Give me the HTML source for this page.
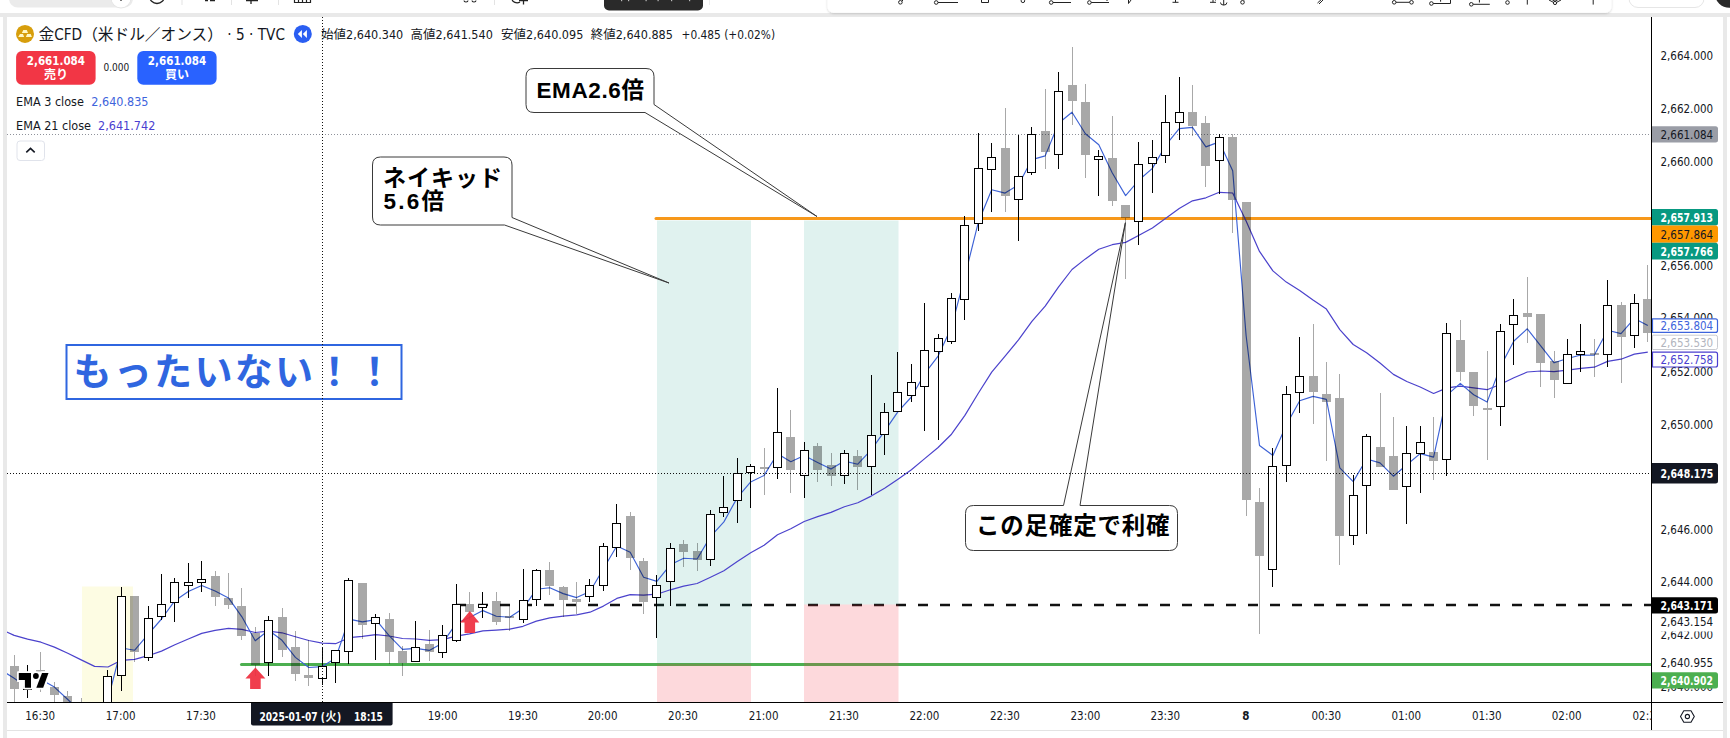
<!DOCTYPE html>
<html><head><meta charset="utf-8"><title>chart</title>
<style>
html,body{margin:0;padding:0;}
body{width:1730px;height:738px;overflow:hidden;position:relative;background:#fff;font-family:"Liberation Sans","Noto Sans CJK JP",sans-serif;color:#131722;}
.t{position:absolute;white-space:nowrap;line-height:1;}
</style></head><body>
<svg width="1730" height="738" viewBox="0 0 1730 738" style="position:absolute;left:0;top:0"><defs><clipPath id="cc"><rect x="7" y="17" width="1644" height="685"/></clipPath><clipPath id="tclip"><rect x="1600" y="700" width="51" height="30"/></clipPath><filter id="sh" x="-5%" y="-50%" width="110%" height="200%"><feDropShadow dx="0" dy="1" stdDeviation="1.2" flood-color="#000" flood-opacity="0.18"/></filter></defs><rect x="0" y="0" width="1730" height="738" fill="#ffffff"/><rect x="0" y="13" width="1730" height="4" fill="#e9e9e9"/><rect x="3" y="13" width="4" height="725" fill="#e9e9e9"/><rect x="1723" y="13" width="4" height="725" fill="#e9e9e9"/><rect x="7" y="17" width="1716" height="713" fill="#ffffff"/><rect x="7" y="730" width="1716" height="1" fill="#e3e3e3"/><rect x="9" y="-12" width="124" height="19.6" rx="9" fill="#ebebeb"/><circle cx="121" cy="-2" r="10" fill="#fff" stroke="#e6e6e6" stroke-width="1"/><path d="M121 -4 V1" stroke="#222" stroke-width="1.2"/><circle cx="157" cy="-4" r="7.5" fill="none" stroke="#222" stroke-width="1.3"/><rect x="181.5" y="0" width="1" height="5" fill="#e3e3e3"/><path d="M205 0.5 h3 M210 0.5 h5" stroke="#222" stroke-width="1.5"/><rect x="231" y="0" width="1" height="5" fill="#e3e3e3"/><path d="M251 0 V4 M246 0.6 H258" stroke="#222" stroke-width="1.3"/><rect x="278" y="0" width="1" height="5" fill="#e3e3e3"/><path d="M294.5 -2 V2.5 H310.5 V-2 M298.5 0 V2.5 M302.5 0 V2.5 M306.5 0 V2.5" fill="none" stroke="#222" stroke-width="1.2"/><path d="M464 0.5 a2 1.5 0 0 0 4 0 M472 0.5 a2 1.5 0 0 0 4 0" fill="none" stroke="#222" stroke-width="1.1"/><rect x="494" y="0" width="1" height="5" fill="#e3e3e3"/><path d="M512 -1 a5 4 0 0 0 8 3 M523.5 -2 V4.5 M519 0.5 H528" fill="none" stroke="#222" stroke-width="1.3"/><rect x="604" y="-10" width="99" height="20.5" rx="5" fill="#2a2a2a"/><g fill="#bbb"><rect x="621" y="0" width="1.2" height="1.2"/><rect x="628" y="0" width="1.2" height="1.2"/><rect x="645.5" y="0" width="1.2" height="1.2"/><rect x="657.5" y="0" width="1.2" height="1.2"/><rect x="671" y="0" width="1.2" height="1.2"/><rect x="689" y="0" width="1.2" height="1.2"/></g><rect x="709" y="0" width="1" height="5" fill="#ececec"/><rect x="827.5" y="-10" width="784" height="22.8" rx="6" fill="#ffffff" filter="url(#sh)"/><path d="M901 2 L904 -1" fill="none" stroke="#222" stroke-width="1"/><circle cx="900.4" cy="2.3" r="1.8" fill="#fff" stroke="#222" stroke-width="1"/><path d="M938 2.5 H958" fill="none" stroke="#222" stroke-width="1"/><circle cx="936.2" cy="2.5" r="1.8" fill="#fff" stroke="#222" stroke-width="1"/><path d="M981.5 -2 V2.5 H988.5 V-2" fill="none" stroke="#222" stroke-width="1"/><path d="M1022 0 L1025 -2" fill="none" stroke="#222" stroke-width="1"/><circle cx="1022.9" cy="0.8" r="1.8" fill="#fff" stroke="#222" stroke-width="1"/><path d="M1053 2.5 H1071" fill="none" stroke="#222" stroke-width="1"/><circle cx="1051.2" cy="2.5" r="1.8" fill="#fff" stroke="#222" stroke-width="1"/><path d="M1091 2.5 H1109 M1107 0 V1" fill="none" stroke="#222" stroke-width="1"/><circle cx="1089.4" cy="2.5" r="1.8" fill="#fff" stroke="#222" stroke-width="1"/><path d="M1128.5 -1 V3.5 L1131 0" fill="none" stroke="#222" stroke-width="1"/><path d="M1172.5 2.3 H1178.5 M1175.5 -2 V2.3" fill="none" stroke="#222" stroke-width="1"/><path d="M1210 2.3 H1216 M1213 -2 V2.3" fill="none" stroke="#222" stroke-width="1"/><path d="M1223.7 -1 V5 M1220.5 2.5 a3.2 2.6 0 0 0 6.4 0 M1215 0 h1" fill="none" stroke="#222" stroke-width="1"/><circle cx="1242.5" cy="2.3" r="1.8" fill="#fff" stroke="#222" stroke-width="1"/><path d="M1244 0.5 L1246 -1.5" fill="none" stroke="#222" stroke-width="1"/><path d="M1317.5 3 L1323 -2 M1319 4 L1324 -1" fill="none" stroke="#222" stroke-width="1"/><path d="M1396 2.3 H1410" fill="none" stroke="#222" stroke-width="1"/><circle cx="1394.2" cy="2.3" r="1.8" fill="#fff" stroke="#222" stroke-width="1"/><circle cx="1411.5" cy="2.3" r="1.8" fill="#fff" stroke="#222" stroke-width="1"/><path d="M1433 3.5 H1450.5 V-1 M1440.6 -1 V1.7" fill="none" stroke="#222" stroke-width="1"/><circle cx="1431.4" cy="3.5" r="1.8" fill="#fff" stroke="#222" stroke-width="1"/><path d="M1473 4.3 H1489.8 M1479.4 -1 V2.5" fill="none" stroke="#222" stroke-width="1"/><circle cx="1471.3" cy="4.3" r="1.8" fill="#fff" stroke="#222" stroke-width="1"/><circle cx="1507.5" cy="2.5" r="1.8" fill="#fff" stroke="#222" stroke-width="1"/><path d="M1527.3 -1 V4.6" fill="none" stroke="#222" stroke-width="1"/><path d="M1549 0 L1555 3.2 L1561 0 M1549 -2 L1555 1.2 L1561 -2" fill="none" stroke="#222" stroke-width="1"/><circle cx="1555" cy="3" r="1.6" fill="#fff" stroke="#222" stroke-width="1"/><path d="M1593.2 -1 V4.6" fill="none" stroke="#222" stroke-width="1"/><rect x="1629" y="-12" width="75" height="19.5" rx="9" fill="#fff" stroke="#e6e6e6" stroke-width="1"/><circle cx="1729.5" cy="-7" r="14.8" fill="#2a2a2a"/><g clip-path="url(#cc)"><rect x="82" y="586.5" width="51" height="120" fill="#fdfce3"/><line x1="7" y1="134.5" x2="1651" y2="134.5" stroke="#8f929b" stroke-width="1" stroke-dasharray="1 2"/><line x1="656" y1="218.45" x2="1651" y2="218.45" stroke="#f7981a" stroke-width="3" stroke-linecap="round"/><line x1="241.5" y1="664.45" x2="1651" y2="664.45" stroke="#4caf50" stroke-width="3" stroke-linecap="round"/><line x1="456" y1="605" x2="1651" y2="605" stroke="#111" stroke-width="2.4" stroke-dasharray="10 12"/><rect x="657" y="220.5" width="94" height="442.5" fill="rgba(8,153,129,0.125)"/><rect x="657" y="663.8" width="94" height="40" fill="rgba(242,54,69,0.19)"/><rect x="804" y="220.5" width="94.5" height="384" fill="rgba(8,153,129,0.125)"/><rect x="804" y="604.5" width="94.5" height="100" fill="rgba(242,54,69,0.19)"/><polyline points="5.0,631.2 14.2,635.4 27.6,639.1 41.0,642.2 54.4,647.1 67.8,653.3 81.2,659.9 94.6,666.4 108.0,667.0 121.3,660.3 134.7,659.4 148.1,655.7 161.5,651.1 174.9,644.8 188.3,639.0 201.7,633.4 215.1,630.3 228.5,628.3 241.9,629.3 255.2,632.5 268.6,631.2 282.0,632.8 295.4,636.8 308.8,640.5 322.2,643.1 335.6,643.7 349.0,637.7 362.4,636.4 375.8,634.6 389.1,636.0 402.5,638.5 415.9,639.0 429.3,640.3 442.7,639.7 456.1,636.2 469.5,633.8 482.9,630.9 496.3,630.1 509.7,629.1 523.0,626.3 536.4,621.1 549.8,617.8 563.2,616.2 576.6,614.9 590.0,612.2 603.4,606.1 616.8,598.4 630.2,594.7 643.6,595.2 656.9,594.2 670.3,589.8 683.7,586.1 697.1,583.5 710.5,577.2 723.9,570.7 737.3,561.6 750.7,552.8 764.1,545.2 777.5,534.7 790.8,528.8 804.2,521.5 817.6,516.6 831.0,512.4 844.4,506.7 857.8,502.7 871.2,496.1 884.6,488.2 898.0,479.2 911.4,469.8 924.7,458.6 938.1,447.5 951.5,434.2 964.9,415.4 978.3,393.3 991.7,372.1 1005.1,356.1 1018.5,339.9 1031.9,321.4 1045.2,306.2 1058.6,286.8 1072.0,269.5 1085.4,258.9 1098.8,249.3 1112.2,244.7 1125.6,242.4 1139.0,235.2 1152.4,228.0 1165.8,218.3 1179.2,208.6 1192.5,200.8 1205.9,197.8 1219.3,192.3 1232.7,193.0 1246.1,221.0 1259.5,251.4 1272.9,270.9 1286.3,282.1 1299.7,290.5 1313.0,300.1 1326.4,309.1 1339.8,329.6 1353.2,344.5 1366.6,352.8 1380.0,363.0 1393.4,374.4 1406.8,381.5 1420.2,387.0 1433.6,393.5 1447.0,387.9 1460.3,386.2 1473.7,387.9 1487.1,389.7 1500.5,384.2 1513.9,377.7 1527.3,372.0 1540.7,371.0 1554.1,371.7 1567.5,370.1 1580.9,368.4 1594.2,367.2 1607.6,361.4 1621.0,359.2 1634.4,354.1 1647.8,352.1" fill="none" stroke="#4b42cc" stroke-width="1.2" stroke-linejoin="round"/><polyline points="5.0,672.5 14.2,678.2 27.6,687.6 41.0,679.6 54.4,687.1 67.8,699.5 81.2,712.3 94.6,722.4 108.0,699.4 121.3,648.0 134.7,650.2 148.1,634.3 161.5,619.0 174.9,600.7 188.3,591.6 201.7,585.5 215.1,591.0 228.5,597.9 241.9,616.8 255.2,640.8 268.6,630.2 282.0,640.3 295.4,657.4 308.8,667.5 322.2,666.6 335.6,658.3 349.0,619.1 362.4,621.9 375.8,619.6 389.1,635.7 402.5,649.4 415.9,648.4 429.3,650.4 442.7,642.9 456.1,623.6 469.5,617.6 482.9,610.6 496.3,616.2 509.7,617.3 523.0,608.4 536.4,589.3 549.8,587.7 563.2,593.6 576.6,597.6 590.0,591.5 603.4,568.7 616.8,546.0 630.2,552.3 643.6,577.3 656.9,581.4 670.3,564.8 683.7,558.3 697.1,559.0 710.5,536.6 723.9,521.9 737.3,497.6 750.7,481.9 764.1,475.4 777.5,453.8 790.8,461.7 804.2,455.6 817.6,462.5 831.0,469.1 844.4,461.1 857.8,464.2 871.2,449.8 884.6,431.1 898.0,411.7 911.4,397.0 924.7,373.7 938.1,356.1 951.5,327.2 964.9,276.2 978.3,222.3 991.7,189.7 1005.1,193.1 1018.5,184.8 1031.9,159.6 1045.2,155.9 1058.6,123.3 1072.0,112.2 1085.4,133.7 1098.8,144.8 1112.2,172.7 1125.6,195.6 1139.0,180.0 1152.4,168.4 1165.8,145.2 1179.2,128.6 1192.5,127.4 1205.9,146.9 1219.3,141.9 1232.7,170.7 1246.1,335.5 1259.5,445.5 1272.9,455.5 1286.3,425.0 1299.7,400.8 1313.0,396.4 1326.4,399.4 1339.8,467.9 1353.2,481.6 1366.6,459.0 1380.0,462.9 1393.4,476.2 1406.8,464.8 1420.2,453.6 1433.6,457.1 1447.0,395.1 1460.3,383.4 1473.7,394.7 1487.1,402.1 1500.5,366.6 1513.9,341.0 1527.3,328.8 1540.7,345.8 1554.1,362.8 1567.5,358.5 1580.9,355.0 1594.2,355.2 1607.6,330.2 1621.0,333.6 1634.4,318.4 1647.8,325.6" fill="none" stroke="#3d62d6" stroke-width="1.15" stroke-linejoin="round"/><line x1="14.5" y1="655" x2="14.5" y2="666" stroke="rgba(0,0,0,0.34)" stroke-width="1"/><line x1="14.5" y1="689" x2="14.5" y2="710" stroke="rgba(0,0,0,0.34)" stroke-width="1"/><rect x="10" y="666" width="9" height="23" fill="rgba(0,0,0,0.34)"/><line x1="27.5" y1="665" x2="27.5" y2="672" stroke="#000" stroke-width="1"/><line x1="27.5" y1="690" x2="27.5" y2="698" stroke="#000" stroke-width="1"/><rect x="23.5" y="672.5" width="8" height="17" fill="#fff" stroke="#000" stroke-width="1"/><line x1="40.5" y1="652" x2="40.5" y2="670" stroke="rgba(0,0,0,0.34)" stroke-width="1"/><line x1="40.5" y1="672" x2="40.5" y2="692" stroke="rgba(0,0,0,0.34)" stroke-width="1"/><rect x="36" y="670" width="9" height="2" fill="rgba(0,0,0,0.34)"/><line x1="54.5" y1="682" x2="54.5" y2="687" stroke="rgba(0,0,0,0.34)" stroke-width="1"/><line x1="54.5" y1="695" x2="54.5" y2="710" stroke="rgba(0,0,0,0.34)" stroke-width="1"/><rect x="50" y="687" width="9" height="8" fill="rgba(0,0,0,0.34)"/><line x1="67.5" y1="691" x2="67.5" y2="696" stroke="rgba(0,0,0,0.34)" stroke-width="1"/><line x1="67.5" y1="712" x2="67.5" y2="720" stroke="rgba(0,0,0,0.34)" stroke-width="1"/><rect x="63" y="696" width="9" height="16" fill="rgba(0,0,0,0.34)"/><line x1="81.5" y1="698" x2="81.5" y2="705" stroke="rgba(0,0,0,0.34)" stroke-width="1"/><line x1="81.5" y1="725" x2="81.5" y2="730" stroke="rgba(0,0,0,0.34)" stroke-width="1"/><rect x="77" y="705" width="9" height="20" fill="rgba(0,0,0,0.34)"/><line x1="94.5" y1="720" x2="94.5" y2="726" stroke="rgba(0,0,0,0.34)" stroke-width="1"/><line x1="94.5" y1="732" x2="94.5" y2="740" stroke="rgba(0,0,0,0.34)" stroke-width="1"/><rect x="90" y="726" width="9" height="6" fill="rgba(0,0,0,0.34)"/><line x1="107.5" y1="670" x2="107.5" y2="676" stroke="#000" stroke-width="1"/><line x1="107.5" y1="720" x2="107.5" y2="725" stroke="#000" stroke-width="1"/><rect x="103.5" y="676.5" width="8" height="43" fill="#fff" stroke="#000" stroke-width="1"/><line x1="121.5" y1="587" x2="121.5" y2="596" stroke="#000" stroke-width="1"/><line x1="121.5" y1="676" x2="121.5" y2="691" stroke="#000" stroke-width="1"/><rect x="117.5" y="596.5" width="8" height="79" fill="#fff" stroke="#000" stroke-width="1"/><line x1="134.5" y1="652" x2="134.5" y2="662" stroke="rgba(0,0,0,0.34)" stroke-width="1"/><rect x="130" y="596" width="9" height="56" fill="rgba(0,0,0,0.34)"/><line x1="148.5" y1="606" x2="148.5" y2="618" stroke="#000" stroke-width="1"/><line x1="148.5" y1="658" x2="148.5" y2="661" stroke="#000" stroke-width="1"/><rect x="144.5" y="618.5" width="8" height="39" fill="#fff" stroke="#000" stroke-width="1"/><line x1="161.5" y1="574" x2="161.5" y2="604" stroke="#000" stroke-width="1"/><line x1="161.5" y1="617" x2="161.5" y2="620" stroke="#000" stroke-width="1"/><rect x="157.5" y="604.5" width="8" height="12" fill="#fff" stroke="#000" stroke-width="1"/><line x1="174.5" y1="578" x2="174.5" y2="582" stroke="#000" stroke-width="1"/><line x1="174.5" y1="603" x2="174.5" y2="622" stroke="#000" stroke-width="1"/><rect x="170.5" y="582.5" width="8" height="20" fill="#fff" stroke="#000" stroke-width="1"/><line x1="188.5" y1="563" x2="188.5" y2="582" stroke="#000" stroke-width="1"/><line x1="188.5" y1="586" x2="188.5" y2="598" stroke="#000" stroke-width="1"/><rect x="184.5" y="582.5" width="8" height="3" fill="#fff" stroke="#000" stroke-width="1"/><line x1="201.5" y1="561" x2="201.5" y2="579" stroke="#000" stroke-width="1"/><line x1="201.5" y1="583" x2="201.5" y2="592" stroke="#000" stroke-width="1"/><rect x="197.5" y="579.5" width="8" height="3" fill="#fff" stroke="#000" stroke-width="1"/><line x1="215.5" y1="571" x2="215.5" y2="576" stroke="rgba(0,0,0,0.34)" stroke-width="1"/><line x1="215.5" y1="597" x2="215.5" y2="606" stroke="rgba(0,0,0,0.34)" stroke-width="1"/><rect x="211" y="576" width="9" height="21" fill="rgba(0,0,0,0.34)"/><line x1="228.5" y1="573" x2="228.5" y2="598" stroke="rgba(0,0,0,0.34)" stroke-width="1"/><line x1="228.5" y1="605" x2="228.5" y2="609" stroke="rgba(0,0,0,0.34)" stroke-width="1"/><rect x="224" y="598" width="9" height="7" fill="rgba(0,0,0,0.34)"/><line x1="241.5" y1="588" x2="241.5" y2="606" stroke="rgba(0,0,0,0.34)" stroke-width="1"/><line x1="241.5" y1="636" x2="241.5" y2="640" stroke="rgba(0,0,0,0.34)" stroke-width="1"/><rect x="237" y="606" width="9" height="30" fill="rgba(0,0,0,0.34)"/><line x1="255.5" y1="627" x2="255.5" y2="633" stroke="rgba(0,0,0,0.34)" stroke-width="1"/><line x1="255.5" y1="665" x2="255.5" y2="676" stroke="rgba(0,0,0,0.34)" stroke-width="1"/><rect x="251" y="633" width="9" height="32" fill="rgba(0,0,0,0.34)"/><line x1="268.5" y1="616" x2="268.5" y2="620" stroke="#000" stroke-width="1"/><line x1="268.5" y1="663" x2="268.5" y2="676" stroke="#000" stroke-width="1"/><rect x="264.5" y="620.5" width="8" height="42" fill="#fff" stroke="#000" stroke-width="1"/><line x1="282.5" y1="608" x2="282.5" y2="617" stroke="rgba(0,0,0,0.34)" stroke-width="1"/><line x1="282.5" y1="650" x2="282.5" y2="657" stroke="rgba(0,0,0,0.34)" stroke-width="1"/><rect x="278" y="617" width="9" height="33" fill="rgba(0,0,0,0.34)"/><line x1="295.5" y1="631" x2="295.5" y2="647" stroke="rgba(0,0,0,0.34)" stroke-width="1"/><line x1="295.5" y1="674" x2="295.5" y2="681" stroke="rgba(0,0,0,0.34)" stroke-width="1"/><rect x="291" y="647" width="9" height="27" fill="rgba(0,0,0,0.34)"/><line x1="308.5" y1="640" x2="308.5" y2="675" stroke="rgba(0,0,0,0.34)" stroke-width="1"/><line x1="308.5" y1="678" x2="308.5" y2="686" stroke="rgba(0,0,0,0.34)" stroke-width="1"/><rect x="304" y="675" width="9" height="3" fill="rgba(0,0,0,0.34)"/><line x1="322.5" y1="647" x2="322.5" y2="666" stroke="#000" stroke-width="1"/><line x1="322.5" y1="679" x2="322.5" y2="685" stroke="#000" stroke-width="1"/><rect x="318.5" y="666.5" width="8" height="12" fill="#fff" stroke="#000" stroke-width="1"/><line x1="335.5" y1="663" x2="335.5" y2="683" stroke="#000" stroke-width="1"/><rect x="331.5" y="650.5" width="8" height="12" fill="#fff" stroke="#000" stroke-width="1"/><line x1="348.5" y1="578" x2="348.5" y2="580" stroke="#000" stroke-width="1"/><line x1="348.5" y1="652" x2="348.5" y2="664" stroke="#000" stroke-width="1"/><rect x="344.5" y="580.5" width="8" height="71" fill="#fff" stroke="#000" stroke-width="1"/><line x1="362.5" y1="625" x2="362.5" y2="639" stroke="rgba(0,0,0,0.34)" stroke-width="1"/><rect x="358" y="583" width="9" height="42" fill="rgba(0,0,0,0.34)"/><line x1="375.5" y1="614" x2="375.5" y2="617" stroke="#000" stroke-width="1"/><line x1="375.5" y1="624" x2="375.5" y2="660" stroke="#000" stroke-width="1"/><rect x="371.5" y="617.5" width="8" height="6" fill="#fff" stroke="#000" stroke-width="1"/><line x1="389.5" y1="613" x2="389.5" y2="619" stroke="rgba(0,0,0,0.34)" stroke-width="1"/><line x1="389.5" y1="652" x2="389.5" y2="664" stroke="rgba(0,0,0,0.34)" stroke-width="1"/><rect x="385" y="619" width="9" height="33" fill="rgba(0,0,0,0.34)"/><line x1="402.5" y1="646" x2="402.5" y2="651" stroke="rgba(0,0,0,0.34)" stroke-width="1"/><line x1="402.5" y1="663" x2="402.5" y2="676" stroke="rgba(0,0,0,0.34)" stroke-width="1"/><rect x="398" y="651" width="9" height="12" fill="rgba(0,0,0,0.34)"/><line x1="415.5" y1="621" x2="415.5" y2="647" stroke="#000" stroke-width="1"/><rect x="411.5" y="647.5" width="8" height="14" fill="#fff" stroke="#000" stroke-width="1"/><line x1="429.5" y1="630" x2="429.5" y2="644" stroke="rgba(0,0,0,0.34)" stroke-width="1"/><line x1="429.5" y1="652" x2="429.5" y2="661" stroke="rgba(0,0,0,0.34)" stroke-width="1"/><rect x="425" y="644" width="9" height="8" fill="rgba(0,0,0,0.34)"/><line x1="442.5" y1="625" x2="442.5" y2="635" stroke="#000" stroke-width="1"/><line x1="442.5" y1="653" x2="442.5" y2="658" stroke="#000" stroke-width="1"/><rect x="438.5" y="635.5" width="8" height="17" fill="#fff" stroke="#000" stroke-width="1"/><line x1="456.5" y1="584" x2="456.5" y2="604" stroke="#000" stroke-width="1"/><line x1="456.5" y1="641" x2="456.5" y2="642" stroke="#000" stroke-width="1"/><rect x="452.5" y="604.5" width="8" height="36" fill="#fff" stroke="#000" stroke-width="1"/><line x1="469.5" y1="592" x2="469.5" y2="604" stroke="rgba(0,0,0,0.34)" stroke-width="1"/><line x1="469.5" y1="612" x2="469.5" y2="620" stroke="rgba(0,0,0,0.34)" stroke-width="1"/><rect x="465" y="604" width="9" height="8" fill="rgba(0,0,0,0.34)"/><line x1="482.5" y1="592" x2="482.5" y2="604" stroke="#000" stroke-width="1"/><line x1="482.5" y1="608" x2="482.5" y2="618" stroke="#000" stroke-width="1"/><rect x="478.5" y="604.5" width="8" height="3" fill="#fff" stroke="#000" stroke-width="1"/><line x1="496.5" y1="592" x2="496.5" y2="601" stroke="rgba(0,0,0,0.34)" stroke-width="1"/><line x1="496.5" y1="622" x2="496.5" y2="625" stroke="rgba(0,0,0,0.34)" stroke-width="1"/><rect x="492" y="601" width="9" height="21" fill="rgba(0,0,0,0.34)"/><line x1="509.5" y1="605" x2="509.5" y2="616" stroke="rgba(0,0,0,0.34)" stroke-width="1"/><line x1="509.5" y1="618" x2="509.5" y2="631" stroke="rgba(0,0,0,0.34)" stroke-width="1"/><rect x="505" y="616" width="9" height="2" fill="rgba(0,0,0,0.34)"/><line x1="523.5" y1="569" x2="523.5" y2="600" stroke="#000" stroke-width="1"/><line x1="523.5" y1="620" x2="523.5" y2="623" stroke="#000" stroke-width="1"/><rect x="519.5" y="600.5" width="8" height="19" fill="#fff" stroke="#000" stroke-width="1"/><line x1="536.5" y1="569" x2="536.5" y2="570" stroke="#000" stroke-width="1"/><line x1="536.5" y1="600" x2="536.5" y2="606" stroke="#000" stroke-width="1"/><rect x="532.5" y="570.5" width="8" height="29" fill="#fff" stroke="#000" stroke-width="1"/><line x1="549.5" y1="562" x2="549.5" y2="570" stroke="rgba(0,0,0,0.34)" stroke-width="1"/><line x1="549.5" y1="586" x2="549.5" y2="595" stroke="rgba(0,0,0,0.34)" stroke-width="1"/><rect x="545" y="570" width="9" height="16" fill="rgba(0,0,0,0.34)"/><line x1="563.5" y1="586" x2="563.5" y2="587" stroke="rgba(0,0,0,0.34)" stroke-width="1"/><line x1="563.5" y1="600" x2="563.5" y2="617" stroke="rgba(0,0,0,0.34)" stroke-width="1"/><rect x="559" y="587" width="9" height="13" fill="rgba(0,0,0,0.34)"/><line x1="576.5" y1="582" x2="576.5" y2="599" stroke="rgba(0,0,0,0.34)" stroke-width="1"/><line x1="576.5" y1="602" x2="576.5" y2="614" stroke="rgba(0,0,0,0.34)" stroke-width="1"/><rect x="572" y="599" width="9" height="3" fill="rgba(0,0,0,0.34)"/><line x1="589.5" y1="579" x2="589.5" y2="585" stroke="#000" stroke-width="1"/><line x1="589.5" y1="597" x2="589.5" y2="602" stroke="#000" stroke-width="1"/><rect x="585.5" y="585.5" width="8" height="11" fill="#fff" stroke="#000" stroke-width="1"/><line x1="603.5" y1="543" x2="603.5" y2="546" stroke="#000" stroke-width="1"/><line x1="603.5" y1="586" x2="603.5" y2="591" stroke="#000" stroke-width="1"/><rect x="599.5" y="546.5" width="8" height="39" fill="#fff" stroke="#000" stroke-width="1"/><line x1="616.5" y1="504" x2="616.5" y2="523" stroke="#000" stroke-width="1"/><line x1="616.5" y1="548" x2="616.5" y2="557" stroke="#000" stroke-width="1"/><rect x="612.5" y="523.5" width="8" height="24" fill="#fff" stroke="#000" stroke-width="1"/><line x1="630.5" y1="512" x2="630.5" y2="516" stroke="rgba(0,0,0,0.34)" stroke-width="1"/><line x1="630.5" y1="558" x2="630.5" y2="570" stroke="rgba(0,0,0,0.34)" stroke-width="1"/><rect x="626" y="516" width="9" height="42" fill="rgba(0,0,0,0.34)"/><line x1="643.5" y1="558" x2="643.5" y2="561" stroke="rgba(0,0,0,0.34)" stroke-width="1"/><line x1="643.5" y1="602" x2="643.5" y2="614" stroke="rgba(0,0,0,0.34)" stroke-width="1"/><rect x="639" y="561" width="9" height="41" fill="rgba(0,0,0,0.34)"/><line x1="656.5" y1="575" x2="656.5" y2="585" stroke="#000" stroke-width="1"/><line x1="656.5" y1="598" x2="656.5" y2="638" stroke="#000" stroke-width="1"/><rect x="652.5" y="585.5" width="8" height="12" fill="#fff" stroke="#000" stroke-width="1"/><line x1="670.5" y1="543" x2="670.5" y2="548" stroke="#000" stroke-width="1"/><line x1="670.5" y1="582" x2="670.5" y2="606" stroke="#000" stroke-width="1"/><rect x="666.5" y="548.5" width="8" height="33" fill="#fff" stroke="#000" stroke-width="1"/><line x1="683.5" y1="540" x2="683.5" y2="544" stroke="rgba(0,0,0,0.34)" stroke-width="1"/><line x1="683.5" y1="552" x2="683.5" y2="567" stroke="rgba(0,0,0,0.34)" stroke-width="1"/><rect x="679" y="544" width="9" height="8" fill="rgba(0,0,0,0.34)"/><line x1="697.5" y1="543" x2="697.5" y2="551" stroke="rgba(0,0,0,0.34)" stroke-width="1"/><line x1="697.5" y1="560" x2="697.5" y2="571" stroke="rgba(0,0,0,0.34)" stroke-width="1"/><rect x="693" y="551" width="9" height="9" fill="rgba(0,0,0,0.34)"/><line x1="710.5" y1="510" x2="710.5" y2="514" stroke="#000" stroke-width="1"/><line x1="710.5" y1="560" x2="710.5" y2="566" stroke="#000" stroke-width="1"/><rect x="706.5" y="514.5" width="8" height="45" fill="#fff" stroke="#000" stroke-width="1"/><line x1="723.5" y1="476" x2="723.5" y2="507" stroke="#000" stroke-width="1"/><line x1="723.5" y1="513" x2="723.5" y2="517" stroke="#000" stroke-width="1"/><rect x="719.5" y="507.5" width="8" height="5" fill="#fff" stroke="#000" stroke-width="1"/><line x1="737.5" y1="458" x2="737.5" y2="473" stroke="#000" stroke-width="1"/><line x1="737.5" y1="501" x2="737.5" y2="523" stroke="#000" stroke-width="1"/><rect x="733.5" y="473.5" width="8" height="27" fill="#fff" stroke="#000" stroke-width="1"/><line x1="750.5" y1="464" x2="750.5" y2="466" stroke="#000" stroke-width="1"/><line x1="750.5" y1="473" x2="750.5" y2="508" stroke="#000" stroke-width="1"/><rect x="746.5" y="466.5" width="8" height="6" fill="#fff" stroke="#000" stroke-width="1"/><line x1="764.5" y1="448" x2="764.5" y2="467" stroke="rgba(0,0,0,0.34)" stroke-width="1"/><line x1="764.5" y1="469" x2="764.5" y2="495" stroke="rgba(0,0,0,0.34)" stroke-width="1"/><rect x="760" y="467" width="9" height="2" fill="rgba(0,0,0,0.34)"/><line x1="777.5" y1="388" x2="777.5" y2="432" stroke="#000" stroke-width="1"/><line x1="777.5" y1="468" x2="777.5" y2="479" stroke="#000" stroke-width="1"/><rect x="773.5" y="432.5" width="8" height="35" fill="#fff" stroke="#000" stroke-width="1"/><line x1="790.5" y1="410" x2="790.5" y2="437" stroke="rgba(0,0,0,0.34)" stroke-width="1"/><line x1="790.5" y1="470" x2="790.5" y2="493" stroke="rgba(0,0,0,0.34)" stroke-width="1"/><rect x="786" y="437" width="9" height="33" fill="rgba(0,0,0,0.34)"/><line x1="804.5" y1="442" x2="804.5" y2="450" stroke="#000" stroke-width="1"/><line x1="804.5" y1="476" x2="804.5" y2="498" stroke="#000" stroke-width="1"/><rect x="800.5" y="450.5" width="8" height="25" fill="#fff" stroke="#000" stroke-width="1"/><line x1="817.5" y1="443" x2="817.5" y2="446" stroke="rgba(0,0,0,0.34)" stroke-width="1"/><line x1="817.5" y1="470" x2="817.5" y2="482" stroke="rgba(0,0,0,0.34)" stroke-width="1"/><rect x="813" y="446" width="9" height="24" fill="rgba(0,0,0,0.34)"/><line x1="831.5" y1="453" x2="831.5" y2="465" stroke="rgba(0,0,0,0.34)" stroke-width="1"/><line x1="831.5" y1="476" x2="831.5" y2="486" stroke="rgba(0,0,0,0.34)" stroke-width="1"/><rect x="827" y="465" width="9" height="11" fill="rgba(0,0,0,0.34)"/><line x1="844.5" y1="450" x2="844.5" y2="453" stroke="#000" stroke-width="1"/><line x1="844.5" y1="476" x2="844.5" y2="484" stroke="#000" stroke-width="1"/><rect x="840.5" y="453.5" width="8" height="22" fill="#fff" stroke="#000" stroke-width="1"/><line x1="857.5" y1="450" x2="857.5" y2="456" stroke="rgba(0,0,0,0.34)" stroke-width="1"/><line x1="857.5" y1="467" x2="857.5" y2="490" stroke="rgba(0,0,0,0.34)" stroke-width="1"/><rect x="853" y="456" width="9" height="11" fill="rgba(0,0,0,0.34)"/><line x1="871.5" y1="375" x2="871.5" y2="435" stroke="#000" stroke-width="1"/><line x1="871.5" y1="467" x2="871.5" y2="495" stroke="#000" stroke-width="1"/><rect x="867.5" y="435.5" width="8" height="31" fill="#fff" stroke="#000" stroke-width="1"/><line x1="884.5" y1="403" x2="884.5" y2="412" stroke="#000" stroke-width="1"/><line x1="884.5" y1="435" x2="884.5" y2="455" stroke="#000" stroke-width="1"/><rect x="880.5" y="412.5" width="8" height="22" fill="#fff" stroke="#000" stroke-width="1"/><line x1="897.5" y1="352" x2="897.5" y2="392" stroke="#000" stroke-width="1"/><rect x="893.5" y="392.5" width="8" height="19" fill="#fff" stroke="#000" stroke-width="1"/><line x1="911.5" y1="364" x2="911.5" y2="382" stroke="#000" stroke-width="1"/><line x1="911.5" y1="396" x2="911.5" y2="402" stroke="#000" stroke-width="1"/><rect x="907.5" y="382.5" width="8" height="13" fill="#fff" stroke="#000" stroke-width="1"/><line x1="924.5" y1="303" x2="924.5" y2="350" stroke="#000" stroke-width="1"/><line x1="924.5" y1="387" x2="924.5" y2="431" stroke="#000" stroke-width="1"/><rect x="920.5" y="350.5" width="8" height="36" fill="#fff" stroke="#000" stroke-width="1"/><line x1="938.5" y1="334" x2="938.5" y2="338" stroke="#000" stroke-width="1"/><line x1="938.5" y1="352" x2="938.5" y2="440" stroke="#000" stroke-width="1"/><rect x="934.5" y="338.5" width="8" height="13" fill="#fff" stroke="#000" stroke-width="1"/><line x1="951.5" y1="293" x2="951.5" y2="298" stroke="#000" stroke-width="1"/><line x1="951.5" y1="342" x2="951.5" y2="344" stroke="#000" stroke-width="1"/><rect x="947.5" y="298.5" width="8" height="43" fill="#fff" stroke="#000" stroke-width="1"/><line x1="964.5" y1="216" x2="964.5" y2="225" stroke="#000" stroke-width="1"/><line x1="964.5" y1="300" x2="964.5" y2="320" stroke="#000" stroke-width="1"/><rect x="960.5" y="225.5" width="8" height="74" fill="#fff" stroke="#000" stroke-width="1"/><line x1="978.5" y1="133" x2="978.5" y2="168" stroke="#000" stroke-width="1"/><line x1="978.5" y1="224" x2="978.5" y2="231" stroke="#000" stroke-width="1"/><rect x="974.5" y="168.5" width="8" height="55" fill="#fff" stroke="#000" stroke-width="1"/><line x1="991.5" y1="143" x2="991.5" y2="157" stroke="#000" stroke-width="1"/><line x1="991.5" y1="170" x2="991.5" y2="212" stroke="#000" stroke-width="1"/><rect x="987.5" y="157.5" width="8" height="12" fill="#fff" stroke="#000" stroke-width="1"/><line x1="1005.5" y1="108" x2="1005.5" y2="148" stroke="rgba(0,0,0,0.34)" stroke-width="1"/><line x1="1005.5" y1="196" x2="1005.5" y2="212" stroke="rgba(0,0,0,0.34)" stroke-width="1"/><rect x="1001" y="148" width="9" height="48" fill="rgba(0,0,0,0.34)"/><line x1="1018.5" y1="135" x2="1018.5" y2="176" stroke="#000" stroke-width="1"/><line x1="1018.5" y1="200" x2="1018.5" y2="241" stroke="#000" stroke-width="1"/><rect x="1014.5" y="176.5" width="8" height="23" fill="#fff" stroke="#000" stroke-width="1"/><line x1="1031.5" y1="127" x2="1031.5" y2="134" stroke="#000" stroke-width="1"/><line x1="1031.5" y1="173" x2="1031.5" y2="175" stroke="#000" stroke-width="1"/><rect x="1027.5" y="134.5" width="8" height="38" fill="#fff" stroke="#000" stroke-width="1"/><line x1="1045.5" y1="89" x2="1045.5" y2="131" stroke="rgba(0,0,0,0.34)" stroke-width="1"/><line x1="1045.5" y1="152" x2="1045.5" y2="169" stroke="rgba(0,0,0,0.34)" stroke-width="1"/><rect x="1041" y="131" width="9" height="21" fill="rgba(0,0,0,0.34)"/><line x1="1058.5" y1="72" x2="1058.5" y2="91" stroke="#000" stroke-width="1"/><line x1="1058.5" y1="155" x2="1058.5" y2="169" stroke="#000" stroke-width="1"/><rect x="1054.5" y="91.5" width="8" height="63" fill="#fff" stroke="#000" stroke-width="1"/><line x1="1072.5" y1="47" x2="1072.5" y2="85" stroke="rgba(0,0,0,0.34)" stroke-width="1"/><line x1="1072.5" y1="101" x2="1072.5" y2="125" stroke="rgba(0,0,0,0.34)" stroke-width="1"/><rect x="1068" y="85" width="9" height="16" fill="rgba(0,0,0,0.34)"/><line x1="1085.5" y1="84" x2="1085.5" y2="102" stroke="rgba(0,0,0,0.34)" stroke-width="1"/><line x1="1085.5" y1="155" x2="1085.5" y2="178" stroke="rgba(0,0,0,0.34)" stroke-width="1"/><rect x="1081" y="102" width="9" height="53" fill="rgba(0,0,0,0.34)"/><line x1="1098.5" y1="150" x2="1098.5" y2="156" stroke="#000" stroke-width="1"/><line x1="1098.5" y1="160" x2="1098.5" y2="196" stroke="#000" stroke-width="1"/><rect x="1094.5" y="156.5" width="8" height="3" fill="#fff" stroke="#000" stroke-width="1"/><line x1="1112.5" y1="116" x2="1112.5" y2="158" stroke="rgba(0,0,0,0.34)" stroke-width="1"/><line x1="1112.5" y1="201" x2="1112.5" y2="206" stroke="rgba(0,0,0,0.34)" stroke-width="1"/><rect x="1108" y="158" width="9" height="43" fill="rgba(0,0,0,0.34)"/><line x1="1125.5" y1="218" x2="1125.5" y2="279" stroke="rgba(0,0,0,0.34)" stroke-width="1"/><rect x="1121" y="205" width="9" height="13" fill="rgba(0,0,0,0.34)"/><line x1="1138.5" y1="142" x2="1138.5" y2="164" stroke="#000" stroke-width="1"/><line x1="1138.5" y1="222" x2="1138.5" y2="245" stroke="#000" stroke-width="1"/><rect x="1134.5" y="164.5" width="8" height="57" fill="#fff" stroke="#000" stroke-width="1"/><line x1="1152.5" y1="140" x2="1152.5" y2="157" stroke="#000" stroke-width="1"/><line x1="1152.5" y1="164" x2="1152.5" y2="193" stroke="#000" stroke-width="1"/><rect x="1148.5" y="157.5" width="8" height="6" fill="#fff" stroke="#000" stroke-width="1"/><line x1="1165.5" y1="95" x2="1165.5" y2="122" stroke="#000" stroke-width="1"/><line x1="1165.5" y1="156" x2="1165.5" y2="163" stroke="#000" stroke-width="1"/><rect x="1161.5" y="122.5" width="8" height="33" fill="#fff" stroke="#000" stroke-width="1"/><line x1="1179.5" y1="77" x2="1179.5" y2="112" stroke="#000" stroke-width="1"/><line x1="1179.5" y1="123" x2="1179.5" y2="140" stroke="#000" stroke-width="1"/><rect x="1175.5" y="112.5" width="8" height="10" fill="#fff" stroke="#000" stroke-width="1"/><line x1="1192.5" y1="85" x2="1192.5" y2="112" stroke="rgba(0,0,0,0.34)" stroke-width="1"/><line x1="1192.5" y1="126" x2="1192.5" y2="136" stroke="rgba(0,0,0,0.34)" stroke-width="1"/><rect x="1188" y="112" width="9" height="14" fill="rgba(0,0,0,0.34)"/><line x1="1205.5" y1="116" x2="1205.5" y2="123" stroke="rgba(0,0,0,0.34)" stroke-width="1"/><line x1="1205.5" y1="166" x2="1205.5" y2="187" stroke="rgba(0,0,0,0.34)" stroke-width="1"/><rect x="1201" y="123" width="9" height="43" fill="rgba(0,0,0,0.34)"/><line x1="1219.5" y1="134" x2="1219.5" y2="137" stroke="#000" stroke-width="1"/><line x1="1219.5" y1="161" x2="1219.5" y2="194" stroke="#000" stroke-width="1"/><rect x="1215.5" y="137.5" width="8" height="23" fill="#fff" stroke="#000" stroke-width="1"/><line x1="1232.5" y1="134" x2="1232.5" y2="137" stroke="rgba(0,0,0,0.34)" stroke-width="1"/><line x1="1232.5" y1="200" x2="1232.5" y2="233" stroke="rgba(0,0,0,0.34)" stroke-width="1"/><rect x="1228" y="137" width="9" height="63" fill="rgba(0,0,0,0.34)"/><line x1="1246.5" y1="500" x2="1246.5" y2="516" stroke="rgba(0,0,0,0.34)" stroke-width="1"/><rect x="1242" y="202" width="9" height="298" fill="rgba(0,0,0,0.34)"/><line x1="1259.5" y1="488" x2="1259.5" y2="502" stroke="rgba(0,0,0,0.34)" stroke-width="1"/><line x1="1259.5" y1="556" x2="1259.5" y2="634" stroke="rgba(0,0,0,0.34)" stroke-width="1"/><rect x="1255" y="502" width="9" height="54" fill="rgba(0,0,0,0.34)"/><line x1="1272.5" y1="448" x2="1272.5" y2="466" stroke="#000" stroke-width="1"/><line x1="1272.5" y1="570" x2="1272.5" y2="587" stroke="#000" stroke-width="1"/><rect x="1268.5" y="466.5" width="8" height="103" fill="#fff" stroke="#000" stroke-width="1"/><line x1="1286.5" y1="386" x2="1286.5" y2="394" stroke="#000" stroke-width="1"/><line x1="1286.5" y1="466" x2="1286.5" y2="482" stroke="#000" stroke-width="1"/><rect x="1282.5" y="394.5" width="8" height="71" fill="#fff" stroke="#000" stroke-width="1"/><line x1="1299.5" y1="337" x2="1299.5" y2="376" stroke="#000" stroke-width="1"/><line x1="1299.5" y1="393" x2="1299.5" y2="413" stroke="#000" stroke-width="1"/><rect x="1295.5" y="376.5" width="8" height="16" fill="#fff" stroke="#000" stroke-width="1"/><line x1="1313.5" y1="324" x2="1313.5" y2="376" stroke="rgba(0,0,0,0.34)" stroke-width="1"/><line x1="1313.5" y1="392" x2="1313.5" y2="424" stroke="rgba(0,0,0,0.34)" stroke-width="1"/><rect x="1309" y="376" width="9" height="16" fill="rgba(0,0,0,0.34)"/><line x1="1326.5" y1="362" x2="1326.5" y2="394" stroke="rgba(0,0,0,0.34)" stroke-width="1"/><line x1="1326.5" y1="402" x2="1326.5" y2="461" stroke="rgba(0,0,0,0.34)" stroke-width="1"/><rect x="1322" y="394" width="9" height="8" fill="rgba(0,0,0,0.34)"/><line x1="1339.5" y1="374" x2="1339.5" y2="398" stroke="rgba(0,0,0,0.34)" stroke-width="1"/><line x1="1339.5" y1="536" x2="1339.5" y2="565" stroke="rgba(0,0,0,0.34)" stroke-width="1"/><rect x="1335" y="398" width="9" height="138" fill="rgba(0,0,0,0.34)"/><line x1="1353.5" y1="475" x2="1353.5" y2="495" stroke="#000" stroke-width="1"/><line x1="1353.5" y1="536" x2="1353.5" y2="545" stroke="#000" stroke-width="1"/><rect x="1349.5" y="495.5" width="8" height="40" fill="#fff" stroke="#000" stroke-width="1"/><line x1="1366.5" y1="434" x2="1366.5" y2="436" stroke="#000" stroke-width="1"/><line x1="1366.5" y1="486" x2="1366.5" y2="534" stroke="#000" stroke-width="1"/><rect x="1362.5" y="436.5" width="8" height="49" fill="#fff" stroke="#000" stroke-width="1"/><line x1="1380.5" y1="393" x2="1380.5" y2="447" stroke="rgba(0,0,0,0.34)" stroke-width="1"/><rect x="1376" y="447" width="9" height="20" fill="rgba(0,0,0,0.34)"/><line x1="1393.5" y1="417" x2="1393.5" y2="456" stroke="rgba(0,0,0,0.34)" stroke-width="1"/><rect x="1389" y="456" width="9" height="34" fill="rgba(0,0,0,0.34)"/><line x1="1406.5" y1="426" x2="1406.5" y2="453" stroke="#000" stroke-width="1"/><line x1="1406.5" y1="487" x2="1406.5" y2="524" stroke="#000" stroke-width="1"/><rect x="1402.5" y="453.5" width="8" height="33" fill="#fff" stroke="#000" stroke-width="1"/><line x1="1420.5" y1="426" x2="1420.5" y2="442" stroke="#000" stroke-width="1"/><line x1="1420.5" y1="454" x2="1420.5" y2="493" stroke="#000" stroke-width="1"/><rect x="1416.5" y="442.5" width="8" height="11" fill="#fff" stroke="#000" stroke-width="1"/><line x1="1433.5" y1="417" x2="1433.5" y2="452" stroke="rgba(0,0,0,0.34)" stroke-width="1"/><line x1="1433.5" y1="461" x2="1433.5" y2="480" stroke="rgba(0,0,0,0.34)" stroke-width="1"/><rect x="1429" y="452" width="9" height="9" fill="rgba(0,0,0,0.34)"/><line x1="1446.5" y1="323" x2="1446.5" y2="333" stroke="#000" stroke-width="1"/><line x1="1446.5" y1="460" x2="1446.5" y2="476" stroke="#000" stroke-width="1"/><rect x="1442.5" y="333.5" width="8" height="126" fill="#fff" stroke="#000" stroke-width="1"/><line x1="1460.5" y1="320" x2="1460.5" y2="340" stroke="rgba(0,0,0,0.34)" stroke-width="1"/><line x1="1460.5" y1="372" x2="1460.5" y2="381" stroke="rgba(0,0,0,0.34)" stroke-width="1"/><rect x="1456" y="340" width="9" height="32" fill="rgba(0,0,0,0.34)"/><line x1="1473.5" y1="406" x2="1473.5" y2="416" stroke="rgba(0,0,0,0.34)" stroke-width="1"/><rect x="1469" y="372" width="9" height="34" fill="rgba(0,0,0,0.34)"/><line x1="1487.5" y1="351" x2="1487.5" y2="408" stroke="rgba(0,0,0,0.34)" stroke-width="1"/><line x1="1487.5" y1="410" x2="1487.5" y2="460" stroke="rgba(0,0,0,0.34)" stroke-width="1"/><rect x="1483" y="408" width="9" height="2" fill="rgba(0,0,0,0.34)"/><line x1="1500.5" y1="324" x2="1500.5" y2="331" stroke="#000" stroke-width="1"/><line x1="1500.5" y1="407" x2="1500.5" y2="426" stroke="#000" stroke-width="1"/><rect x="1496.5" y="331.5" width="8" height="75" fill="#fff" stroke="#000" stroke-width="1"/><line x1="1513.5" y1="299" x2="1513.5" y2="315" stroke="#000" stroke-width="1"/><line x1="1513.5" y1="325" x2="1513.5" y2="365" stroke="#000" stroke-width="1"/><rect x="1509.5" y="315.5" width="8" height="9" fill="#fff" stroke="#000" stroke-width="1"/><line x1="1527.5" y1="277" x2="1527.5" y2="313" stroke="rgba(0,0,0,0.34)" stroke-width="1"/><line x1="1527.5" y1="317" x2="1527.5" y2="343" stroke="rgba(0,0,0,0.34)" stroke-width="1"/><rect x="1523" y="313" width="9" height="4" fill="rgba(0,0,0,0.34)"/><line x1="1540.5" y1="363" x2="1540.5" y2="387" stroke="rgba(0,0,0,0.34)" stroke-width="1"/><rect x="1536" y="314" width="9" height="49" fill="rgba(0,0,0,0.34)"/><line x1="1554.5" y1="351" x2="1554.5" y2="361" stroke="rgba(0,0,0,0.34)" stroke-width="1"/><line x1="1554.5" y1="380" x2="1554.5" y2="398" stroke="rgba(0,0,0,0.34)" stroke-width="1"/><rect x="1550" y="361" width="9" height="19" fill="rgba(0,0,0,0.34)"/><line x1="1567.5" y1="339" x2="1567.5" y2="354" stroke="#000" stroke-width="1"/><rect x="1563.5" y="354.5" width="8" height="29" fill="#fff" stroke="#000" stroke-width="1"/><line x1="1580.5" y1="324" x2="1580.5" y2="351" stroke="#000" stroke-width="1"/><line x1="1580.5" y1="355" x2="1580.5" y2="372" stroke="#000" stroke-width="1"/><rect x="1576.5" y="351.5" width="8" height="3" fill="#fff" stroke="#000" stroke-width="1"/><line x1="1594.5" y1="339" x2="1594.5" y2="353" stroke="rgba(0,0,0,0.34)" stroke-width="1"/><line x1="1594.5" y1="355" x2="1594.5" y2="377" stroke="rgba(0,0,0,0.34)" stroke-width="1"/><rect x="1590" y="353" width="9" height="2" fill="rgba(0,0,0,0.34)"/><line x1="1607.5" y1="280" x2="1607.5" y2="305" stroke="#000" stroke-width="1"/><line x1="1607.5" y1="355" x2="1607.5" y2="367" stroke="#000" stroke-width="1"/><rect x="1603.5" y="305.5" width="8" height="49" fill="#fff" stroke="#000" stroke-width="1"/><line x1="1621.5" y1="302" x2="1621.5" y2="305" stroke="rgba(0,0,0,0.34)" stroke-width="1"/><line x1="1621.5" y1="337" x2="1621.5" y2="383" stroke="rgba(0,0,0,0.34)" stroke-width="1"/><rect x="1617" y="305" width="9" height="32" fill="rgba(0,0,0,0.34)"/><line x1="1634.5" y1="294" x2="1634.5" y2="303" stroke="#000" stroke-width="1"/><line x1="1634.5" y1="336" x2="1634.5" y2="348" stroke="#000" stroke-width="1"/><rect x="1630.5" y="303.5" width="8" height="32" fill="#fff" stroke="#000" stroke-width="1"/><line x1="1647.5" y1="265" x2="1647.5" y2="299" stroke="rgba(0,0,0,0.34)" stroke-width="1"/><line x1="1647.5" y1="333" x2="1647.5" y2="342" stroke="rgba(0,0,0,0.34)" stroke-width="1"/><rect x="1643" y="299" width="9" height="34" fill="rgba(0,0,0,0.34)"/><path d="M255.4 667.5 L265.4 678.5 L260.7 678.5 L260.7 689 L250.1 689 L250.1 678.5 L245.4 678.5 Z" fill="#ef2f40" fill-opacity="0.93"/><path d="M469.8 611 L479.3 622.5 L475.1 622.5 L475.1 633 L464.5 633 L464.5 622.5 L460.3 622.5 Z" fill="#ef2f40" fill-opacity="0.93"/></g><path d="M534 68.5 H646 Q654 68.5 654 76.5 V104.5 L817 216.5 L645 112.5 H534 Q526 112.5 526 104.5 V76.5 Q526 68.5 534 68.5 Z" fill="#fff" stroke="#3a3a3a" stroke-width="1"/><path d="M380.5 157 H504 Q512 157 512 165 V217.5 L669 283 L504.5 225 H380.5 Q372.5 225 372.5 217 V165 Q372.5 157 380.5 157 Z" fill="#fff" stroke="#3a3a3a" stroke-width="1"/><path d="M973.5 505.5 H1063.5 L1125.4 222.7 L1080 505.5 H1169.5 Q1177.5 505.5 1177.5 513.5 V542.5 Q1177.5 550.5 1169.5 550.5 H973.5 Q965.5 550.5 965.5 542.5 V513.5 Q965.5 505.5 973.5 505.5 Z" fill="#fff" stroke="#3a3a3a" stroke-width="1"/><rect x="66.5" y="345" width="335" height="54" fill="#fff" stroke="#2f66e0" stroke-width="2"/><line x1="322.5" y1="17" x2="322.5" y2="702" stroke="#111" stroke-width="1" stroke-dasharray="1 2"/><line x1="7" y1="473.5" x2="1651" y2="473.5" stroke="#111" stroke-width="1" stroke-dasharray="1 2"/><path d="M17.1 671.4 H50.6 L45 689.1 H23.2 V686 H19 V682 H17.1 Z" fill="#fff"/><g fill="#fff" stroke="#fff" stroke-width="3.4" stroke-linejoin="round"><path d="M18.8 673 h12.2 v14.7 h-6.1 v-7.6 h-6.1 z"/><circle cx="35.9" cy="676" r="2.9"/><path d="M42 673 h6.5 l-5.3 14.7 h-6.9 z"/></g><g fill="#000"><path d="M18.8 673 h12.2 v14.7 h-6.1 v-7.6 h-6.1 z"/><circle cx="35.9" cy="676" r="2.9"/><path d="M42 673 h6.5 l-5.3 14.7 h-6.9 z"/></g><circle cx="25.0" cy="33.9" r="9" fill="#d79e0c"/><path d="M21.9 32.9 L23.3 29.9 H26.8 L28.0 32.9 Z M18.2 36.9 L20 34 H23 L24.1 36.9 Z M25.9 36.9 L27.1 34 H30.7 L31.9 36.9 Z" fill="#fff8c4"/><circle cx="302.8" cy="33.9" r="9" fill="#2a5ef2"/><path d="M297.8 33.9 L301.9 29.9 V37.9 Z M302.8 33.9 L306.9 29.9 V37.9 Z" fill="#fff"/><rect x="16.1" y="51.1" width="79.5" height="33.6" rx="6" fill="#f23645"/><rect x="137.3" y="51.1" width="79.3" height="33.6" rx="6" fill="#2962ff"/><rect x="17" y="141" width="27.5" height="19.5" rx="3" fill="#fff" stroke="#e0e3eb" stroke-width="1"/><path d="M26.3 152.3 L30.5 148.3 L34.7 152.3" fill="none" stroke="#131722" stroke-width="1.6"/><text x="1660.5" y="59.90" font-size="11.5" fill="#131722" font-weight="normal" text-anchor="start" font-family="'DejaVu Sans Condensed','Noto Sans CJK JP',sans-serif">2,664.000</text><text x="1660.5" y="112.60" font-size="11.5" fill="#131722" font-weight="normal" text-anchor="start" font-family="'DejaVu Sans Condensed','Noto Sans CJK JP',sans-serif">2,662.000</text><text x="1660.5" y="165.50" font-size="11.5" fill="#131722" font-weight="normal" text-anchor="start" font-family="'DejaVu Sans Condensed','Noto Sans CJK JP',sans-serif">2,660.000</text><text x="1660.5" y="270.30" font-size="11.5" fill="#131722" font-weight="normal" text-anchor="start" font-family="'DejaVu Sans Condensed','Noto Sans CJK JP',sans-serif">2,656.000</text><text x="1660.5" y="428.90" font-size="11.5" fill="#131722" font-weight="normal" text-anchor="start" font-family="'DejaVu Sans Condensed','Noto Sans CJK JP',sans-serif">2,650.000</text><text x="1660.5" y="534.10" font-size="11.5" fill="#131722" font-weight="normal" text-anchor="start" font-family="'DejaVu Sans Condensed','Noto Sans CJK JP',sans-serif">2,646.000</text><text x="1660.5" y="585.90" font-size="11.5" fill="#131722" font-weight="normal" text-anchor="start" font-family="'DejaVu Sans Condensed','Noto Sans CJK JP',sans-serif">2,644.000</text><text x="1660.5" y="321.50" font-size="11.5" fill="#131722" font-weight="normal" text-anchor="start" font-family="'DejaVu Sans Condensed','Noto Sans CJK JP',sans-serif">2,654.000</text><text x="1660.5" y="375.90" font-size="11.5" fill="#131722" font-weight="normal" text-anchor="start" font-family="'DejaVu Sans Condensed','Noto Sans CJK JP',sans-serif">2,652.000</text><text x="1660.5" y="638.70" font-size="11.5" fill="#131722" font-weight="normal" text-anchor="start" font-family="'DejaVu Sans Condensed','Noto Sans CJK JP',sans-serif">2,642.000</text><text x="1660.5" y="691.30" font-size="11.5" fill="#131722" font-weight="normal" text-anchor="start" font-family="'DejaVu Sans Condensed','Noto Sans CJK JP',sans-serif">2,640.000</text><path d="M1652 126.3 H1715.5 Q1718 126.3 1718 128.8 V140.0 Q1718 142.5 1715.5 142.5 H1652 Z" fill="#9a9da6"/><text x="1660.5" y="138.90" font-size="11.5" fill="#131722" font-weight="normal" text-anchor="start" font-family="'DejaVu Sans Condensed','Noto Sans CJK JP',sans-serif">2,661.084</text><path d="M1652 209 H1715.5 Q1718 209 1718 211.5 V223.1 Q1718 225.6 1715.5 225.6 H1652 Z" fill="#089981"/><text x="1660.5" y="221.80" font-size="11.5" fill="#fff" font-weight="bold" text-anchor="start" font-family="'DejaVu Sans Condensed','Noto Sans CJK JP',sans-serif" transform="translate(1660.5 0) scale(0.9 1) translate(-1660.5 0)">2,657.913</text><path d="M1652 225.6 H1715.5 Q1718 225.6 1718 228.1 V240.2 Q1718 242.7 1715.5 242.7 H1652 Z" fill="#ff9800"/><text x="1660.5" y="238.60" font-size="11.5" fill="#131722" font-weight="normal" text-anchor="start" font-family="'DejaVu Sans Condensed','Noto Sans CJK JP',sans-serif">2,657.864</text><path d="M1652 242.7 H1715.5 Q1718 242.7 1718 245.2 V257.1 Q1718 259.6 1715.5 259.6 H1652 Z" fill="#089981"/><text x="1660.5" y="255.60" font-size="11.5" fill="#fff" font-weight="bold" text-anchor="start" font-family="'DejaVu Sans Condensed','Noto Sans CJK JP',sans-serif" transform="translate(1660.5 0) scale(0.9 1) translate(-1660.5 0)">2,657.766</text><path d="M1652.5 318.8 H1715.5 Q1717.5 318.8 1717.5 320.8 V330.4 Q1717.5 332.4 1715.5 332.4 H1652.5 Z" fill="#fff" stroke="#3d64dc" stroke-width="1.2"/><text x="1660.5" y="330.10" font-size="11.5" fill="#3d64dc" font-weight="normal" text-anchor="start" font-family="'DejaVu Sans Condensed','Noto Sans CJK JP',sans-serif">2,653.804</text><path d="M1652.5 335.2 H1715.5 Q1717.5 335.2 1717.5 337.2 V347.5 Q1717.5 349.5 1715.5 349.5 H1652.5 Z" fill="#fff" stroke="#c9cbd1" stroke-width="1"/><text x="1660.5" y="346.90" font-size="11.5" fill="#b2b5be" font-weight="normal" text-anchor="start" font-family="'DejaVu Sans Condensed','Noto Sans CJK JP',sans-serif">2,653.530</text><path d="M1652.5 352.2 H1715.5 Q1717.5 352.2 1717.5 354.2 V365 Q1717.5 367 1715.5 367 H1652.5 Z" fill="#fff" stroke="#4a3fd0" stroke-width="1.2"/><text x="1660.5" y="364.10" font-size="11.5" fill="#4a3fd0" font-weight="normal" text-anchor="start" font-family="'DejaVu Sans Condensed','Noto Sans CJK JP',sans-serif">2,652.758</text><path d="M1652 463.1 H1715.5 Q1718 463.1 1718 465.6 V481.0 Q1718 483.5 1715.5 483.5 H1652 Z" fill="#131722"/><text x="1660.5" y="477.70" font-size="12" fill="#fff" font-weight="bold" text-anchor="start" font-family="'DejaVu Sans Condensed','Noto Sans CJK JP',sans-serif" transform="translate(1660.5 0) scale(0.87 1) translate(-1660.5 0)">2,648.175</text><path d="M1652 597.3 H1715.5 Q1718 597.3 1718 599.8 V611.1 Q1718 613.6 1715.5 613.6 H1652 Z" fill="#000000"/><text x="1660.5" y="609.90" font-size="11.5" fill="#fff" font-weight="bold" text-anchor="start" font-family="'DejaVu Sans Condensed','Noto Sans CJK JP',sans-serif" transform="translate(1660.5 0) scale(0.9 1) translate(-1660.5 0)">2,643.171</text><rect x="1652" y="614" width="66" height="17.5" fill="#fff"/><text x="1660.5" y="625.80" font-size="11.5" fill="#131722" font-weight="normal" text-anchor="start" font-family="'DejaVu Sans Condensed','Noto Sans CJK JP',sans-serif">2,643.154</text><rect x="1652" y="655" width="66" height="16.5" fill="#fff"/><text x="1660.5" y="666.90" font-size="11.5" fill="#131722" font-weight="normal" text-anchor="start" font-family="'DejaVu Sans Condensed','Noto Sans CJK JP',sans-serif">2,640.955</text><path d="M1652 672.2 H1715.5 Q1718 672.2 1718 674.7 V686.0 Q1718 688.5 1715.5 688.5 H1652 Z" fill="#4caf50"/><text x="1660.5" y="684.80" font-size="11.5" fill="#fff" font-weight="bold" text-anchor="start" font-family="'DejaVu Sans Condensed','Noto Sans CJK JP',sans-serif" transform="translate(1660.5 0) scale(0.9 1) translate(-1660.5 0)">2,640.902</text><path d="M251 702.5 H392.6 V723.5 Q392.6 725.5 390.6 725.5 H253 Q251 725.5 251 723.5 Z" fill="#131722"/><path d="M1683.8 710.8 H1691 L1694.3 716.5 L1691 722.2 H1683.8 L1680.5 716.5 Z" fill="none" stroke="#131722" stroke-width="1.1" stroke-linejoin="round"/><circle cx="1687.4" cy="716.5" r="2.1" fill="none" stroke="#131722" stroke-width="1.1"/><text x="38.5" y="40.3" font-family="'DejaVu Sans Condensed','Noto Sans CJK JP',sans-serif" font-size="15.2" fill="#131722" font-weight="normal" text-anchor="start" style="white-space:pre" ><tspan font-family="'Noto Sans CJK JP',sans-serif" font-size="15.7">金</tspan>CFD<tspan font-family="'Noto Sans CJK JP',sans-serif" font-size="15.7">（米ドル／オンス）</tspan> · 5 · TVC</text><text x="321" y="38.8" font-family="'DejaVu Sans Condensed','Noto Sans CJK JP',sans-serif" font-size="12.5" fill="#131722" font-weight="normal" text-anchor="start" style="white-space:pre" ><tspan font-family="'Noto Sans CJK JP',sans-serif" font-size="12.5">始値</tspan>2,640.340</text><text x="410.6" y="38.8" font-family="'DejaVu Sans Condensed','Noto Sans CJK JP',sans-serif" font-size="12.5" fill="#131722" font-weight="normal" text-anchor="start" style="white-space:pre" ><tspan font-family="'Noto Sans CJK JP',sans-serif" font-size="12.5">高値</tspan>2,641.540</text><text x="501.1" y="38.8" font-family="'DejaVu Sans Condensed','Noto Sans CJK JP',sans-serif" font-size="12.5" fill="#131722" font-weight="normal" text-anchor="start" style="white-space:pre" ><tspan font-family="'Noto Sans CJK JP',sans-serif" font-size="12.5">安値</tspan>2,640.095</text><text x="590.7" y="38.8" font-family="'DejaVu Sans Condensed','Noto Sans CJK JP',sans-serif" font-size="12.5" fill="#131722" font-weight="normal" text-anchor="start" style="white-space:pre" ><tspan font-family="'Noto Sans CJK JP',sans-serif" font-size="12.5">終値</tspan>2,640.885</text><text x="681.5" y="38.8" font-family="'DejaVu Sans Condensed','Noto Sans CJK JP',sans-serif" font-size="11.8" fill="#131722" font-weight="normal" text-anchor="start" style="white-space:pre" >+0.485 (+0.02%)</text><text x="55.9" y="65.0" font-family="'DejaVu Sans Condensed','Noto Sans CJK JP',sans-serif" font-size="11.5" fill="#fff" font-weight="bold" text-anchor="middle" style="white-space:pre" >2,661.084</text><text x="55.9" y="78.6" font-family="'Noto Sans CJK JP',sans-serif" font-size="12" fill="#fff" font-weight="bold" text-anchor="middle" style="white-space:pre" >売り</text><text x="177.0" y="65.0" font-family="'DejaVu Sans Condensed','Noto Sans CJK JP',sans-serif" font-size="11.5" fill="#fff" font-weight="bold" text-anchor="middle" style="white-space:pre" >2,661.084</text><text x="177.0" y="78.6" font-family="'Noto Sans CJK JP',sans-serif" font-size="12" fill="#fff" font-weight="bold" text-anchor="middle" style="white-space:pre" >買い</text><text x="116.4" y="70.9" font-family="'DejaVu Sans Condensed','Noto Sans CJK JP',sans-serif" font-size="10" fill="#131722" font-weight="normal" text-anchor="middle" style="white-space:pre" >0.000</text><text x="16.1" y="105.6" font-family="'DejaVu Sans Condensed','Noto Sans CJK JP',sans-serif" font-size="12.5" fill="#131722" font-weight="normal" text-anchor="start" style="white-space:pre" >EMA 3 close</text><text x="91.3" y="105.6" font-family="'DejaVu Sans Condensed','Noto Sans CJK JP',sans-serif" font-size="12.5" fill="#3d64dc" font-weight="normal" text-anchor="start" style="white-space:pre" >2,640.835</text><text x="16.1" y="130.0" font-family="'DejaVu Sans Condensed','Noto Sans CJK JP',sans-serif" font-size="12.5" fill="#131722" font-weight="normal" text-anchor="start" style="white-space:pre" >EMA 21 close</text><text x="98.1" y="130.0" font-family="'DejaVu Sans Condensed','Noto Sans CJK JP',sans-serif" font-size="12.5" fill="#4a3fd0" font-weight="normal" text-anchor="start" style="white-space:pre" >2,641.742</text><text x="536.5" y="97.6" font-family="'Liberation Sans','Noto Sans CJK JP',sans-serif" font-size="22.5" fill="#000" font-weight="bold" text-anchor="start" style="white-space:pre" ><tspan letter-spacing="0.6">EMA2.6</tspan><tspan font-family="'Noto Sans CJK JP',sans-serif" font-size="22.5" font-weight="bold">倍</tspan></text><text x="383.0" y="185.5" font-family="'Noto Sans CJK JP',sans-serif" font-size="23" fill="#000" font-weight="bold" text-anchor="start" style="white-space:pre" letter-spacing="1">ネイキッド</text><text x="383.5" y="209.3" font-family="'Liberation Sans','Noto Sans CJK JP',sans-serif" font-size="22.5" fill="#000" font-weight="bold" text-anchor="start" style="white-space:pre" ><tspan letter-spacing="2.2">5.6</tspan><tspan font-family="'Noto Sans CJK JP',sans-serif" font-size="22.5" font-weight="bold">倍</tspan></text><text x="976.0" y="534.3" font-family="'Noto Sans CJK JP',sans-serif" font-size="23.5" fill="#000" font-weight="bold" text-anchor="start" style="white-space:pre" letter-spacing="0.8">この足確定で利確</text><text x="73.5" y="384.5" font-family="'Noto Sans CJK JP',sans-serif" font-size="38" fill="#2f66e0" font-weight="bold" text-anchor="start" style="white-space:pre" letter-spacing="2.3">もったいない！！</text><text x="40.2" y="720.2" font-family="'DejaVu Sans Condensed','Noto Sans CJK JP',sans-serif" font-size="11.5" fill="#131722" font-weight="normal" text-anchor="middle" style="white-space:pre" >16:30</text><text x="120.7" y="720.2" font-family="'DejaVu Sans Condensed','Noto Sans CJK JP',sans-serif" font-size="11.5" fill="#131722" font-weight="normal" text-anchor="middle" style="white-space:pre" >17:00</text><text x="201" y="720.2" font-family="'DejaVu Sans Condensed','Noto Sans CJK JP',sans-serif" font-size="11.5" fill="#131722" font-weight="normal" text-anchor="middle" style="white-space:pre" >17:30</text><text x="442.6" y="720.2" font-family="'DejaVu Sans Condensed','Noto Sans CJK JP',sans-serif" font-size="11.5" fill="#131722" font-weight="normal" text-anchor="middle" style="white-space:pre" >19:00</text><text x="523" y="720.2" font-family="'DejaVu Sans Condensed','Noto Sans CJK JP',sans-serif" font-size="11.5" fill="#131722" font-weight="normal" text-anchor="middle" style="white-space:pre" >19:30</text><text x="602.6" y="720.2" font-family="'DejaVu Sans Condensed','Noto Sans CJK JP',sans-serif" font-size="11.5" fill="#131722" font-weight="normal" text-anchor="middle" style="white-space:pre" >20:00</text><text x="683" y="720.2" font-family="'DejaVu Sans Condensed','Noto Sans CJK JP',sans-serif" font-size="11.5" fill="#131722" font-weight="normal" text-anchor="middle" style="white-space:pre" >20:30</text><text x="763.6" y="720.2" font-family="'DejaVu Sans Condensed','Noto Sans CJK JP',sans-serif" font-size="11.5" fill="#131722" font-weight="normal" text-anchor="middle" style="white-space:pre" >21:00</text><text x="844" y="720.2" font-family="'DejaVu Sans Condensed','Noto Sans CJK JP',sans-serif" font-size="11.5" fill="#131722" font-weight="normal" text-anchor="middle" style="white-space:pre" >21:30</text><text x="924.4" y="720.2" font-family="'DejaVu Sans Condensed','Noto Sans CJK JP',sans-serif" font-size="11.5" fill="#131722" font-weight="normal" text-anchor="middle" style="white-space:pre" >22:00</text><text x="1004.9" y="720.2" font-family="'DejaVu Sans Condensed','Noto Sans CJK JP',sans-serif" font-size="11.5" fill="#131722" font-weight="normal" text-anchor="middle" style="white-space:pre" >22:30</text><text x="1085.4" y="720.2" font-family="'DejaVu Sans Condensed','Noto Sans CJK JP',sans-serif" font-size="11.5" fill="#131722" font-weight="normal" text-anchor="middle" style="white-space:pre" >23:00</text><text x="1165.3" y="720.2" font-family="'DejaVu Sans Condensed','Noto Sans CJK JP',sans-serif" font-size="11.5" fill="#131722" font-weight="normal" text-anchor="middle" style="white-space:pre" >23:30</text><text x="1326.3" y="720.2" font-family="'DejaVu Sans Condensed','Noto Sans CJK JP',sans-serif" font-size="11.5" fill="#131722" font-weight="normal" text-anchor="middle" style="white-space:pre" >00:30</text><text x="1406.3" y="720.2" font-family="'DejaVu Sans Condensed','Noto Sans CJK JP',sans-serif" font-size="11.5" fill="#131722" font-weight="normal" text-anchor="middle" style="white-space:pre" >01:00</text><text x="1486.8" y="720.2" font-family="'DejaVu Sans Condensed','Noto Sans CJK JP',sans-serif" font-size="11.5" fill="#131722" font-weight="normal" text-anchor="middle" style="white-space:pre" >01:30</text><text x="1566.7" y="720.2" font-family="'DejaVu Sans Condensed','Noto Sans CJK JP',sans-serif" font-size="11.5" fill="#131722" font-weight="normal" text-anchor="middle" style="white-space:pre" >02:00</text><text x="1245.8" y="720.2" font-family="'DejaVu Sans Condensed','Noto Sans CJK JP',sans-serif" font-size="11.5" fill="#131722" font-weight="bold" text-anchor="middle" style="white-space:pre" >8</text><text x="1632.5" y="720.2" font-family="'DejaVu Sans Condensed','Noto Sans CJK JP',sans-serif" font-size="11.5" fill="#131722" font-weight="normal" text-anchor="start" style="white-space:pre" clip-path="url(#tclip)">02:30</text><text x="259.4" y="720.9" font-family="'DejaVu Sans Condensed','Noto Sans CJK JP',sans-serif" font-size="11.5" fill="#fff" font-weight="bold" text-anchor="start" style="white-space:pre" transform="translate(259.4 0) scale(0.88 1) translate(-259.4 0)">2025-01-07 <tspan letter-spacing="0.6">(<tspan font-family="'Noto Sans CJK JP',sans-serif" font-size="12.5" font-weight="bold">火</tspan>)</tspan></text><text x="354.0" y="720.9" font-family="'DejaVu Sans Condensed','Noto Sans CJK JP',sans-serif" font-size="11.5" fill="#fff" font-weight="bold" text-anchor="start" style="white-space:pre" transform="translate(354 0) scale(0.88 1) translate(-354 0)">18:15</text><rect x="1651" y="17" width="1" height="713" fill="#000"/><rect x="7" y="702" width="1716" height="1" fill="#000"/></svg>
</body></html>
